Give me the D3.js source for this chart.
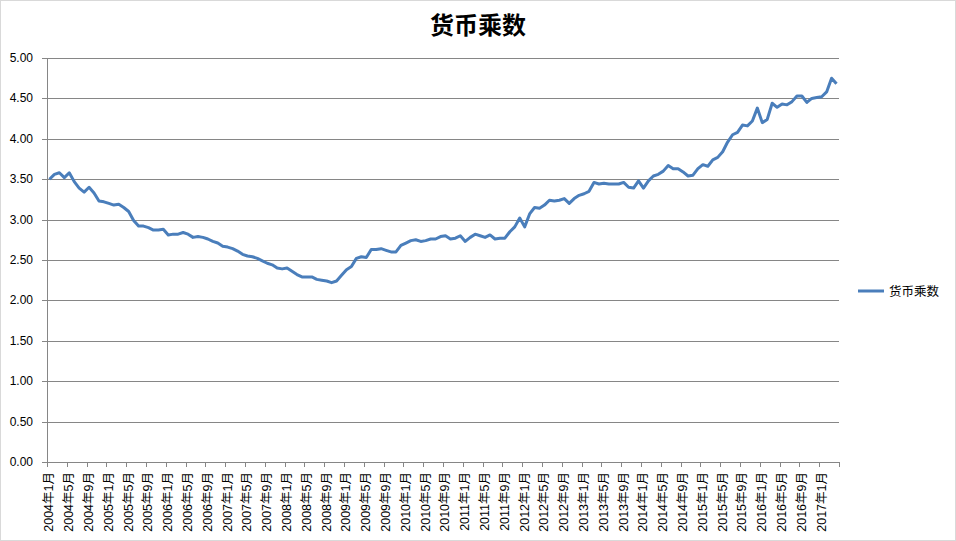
<!DOCTYPE html>
<html><head><meta charset="utf-8">
<script src="https://cdn.jsdelivr.net/npm/d3@7"></script>
<style>body{margin:0;background:#fff}svg{display:block}</style>
</head><body>
<svg id="c" width="956" height="541"></svg>
<script>
const title = "货币乘数";
const seriesName = "货币乘数";
const startYear = 2004, startMonth = 1;
const values = [
 3.50,3.56,3.58,3.52,3.58,3.47,3.39,3.34,3.40,3.33,3.23,3.22,3.20,3.18,3.19,3.15,
 3.10,2.99,2.92,2.92,2.90,2.87,2.87,2.88,2.81,2.82,2.82,2.84,2.82,2.78,2.79,2.78,
 2.76,2.73,2.71,2.67,2.66,2.64,2.61,2.57,2.55,2.54,2.52,2.49,2.46,2.44,2.40,2.39,
 2.40,2.36,2.32,2.29,2.29,2.29,2.26,2.25,2.24,2.22,2.24,2.31,2.38,2.42,2.52,2.54,
 2.53,2.63,2.63,2.64,2.62,2.60,2.60,2.68,2.71,2.74,2.75,2.73,2.74,2.76,2.76,2.79,
 2.80,2.76,2.77,2.80,2.73,2.78,2.82,2.80,2.78,2.81,2.76,2.77,2.77,2.85,2.91,3.02,
 2.91,3.07,3.15,3.14,3.18,3.24,3.23,3.24,3.26,3.20,3.26,3.30,3.32,3.35,3.46,3.44,
 3.45,3.44,3.44,3.44,3.46,3.40,3.39,3.48,3.39,3.48,3.54,3.56,3.60,3.67,3.63,3.63,
 3.59,3.54,3.55,3.63,3.68,3.66,3.74,3.77,3.84,3.96,4.05,4.08,4.17,4.16,4.22,4.38,
 4.20,4.24,4.44,4.39,4.43,4.42,4.46,4.53,4.53,4.45,4.50,4.51,4.52,4.58,4.75,4.68
];
const yTicks = [0,0.5,1,1.5,2,2.5,3,3.5,4,4.5,5];

const categories = values.map((v,i)=>{
  const m = startMonth - 1 + i;
  return (startYear + Math.floor(m/12)) + "年" + (m%12 + 1) + "月";
});

const svg = d3.select("#c");
const L = 47, R = 839, T = 58, B = 462;
const x = d3.scaleBand().domain(categories).range([L, R]).padding(0);
const y = d3.scaleLinear().domain([0,5]).range([B, T]);
const font = "'Liberation Sans', Arial, 'Noto Sans CJK SC', sans-serif";
const grid = "#868686";

svg.append("rect").attr("x",0.5).attr("y",0.5).attr("width",955).attr("height",540)
  .attr("fill","#fff").attr("stroke","#d9d9d9");

svg.append("text").attr("x",478).attr("y",34).attr("text-anchor","middle")
  .attr("font-family","'Noto Sans CJK SC', sans-serif").attr("font-weight","bold")
  .attr("font-size",24).attr("fill","#000").text(title);

// gridlines
svg.append("g").selectAll("line").data(yTicks.filter(d=>d>0)).join("line")
  .attr("x1",L).attr("x2",R).attr("y1",d=>Math.round(y(d))+0.5).attr("y2",d=>Math.round(y(d))+0.5)
  .attr("stroke",grid).attr("stroke-width",1);

// y axis
const ya = svg.append("g");
ya.append("line").attr("x1",L+0.5).attr("x2",L+0.5).attr("y1",T).attr("y2",B).attr("stroke",grid);
ya.selectAll("line.t").data(yTicks).join("line").attr("class","t")
  .attr("x1",L-5).attr("x2",L).attr("y1",d=>Math.round(y(d))+0.5).attr("y2",d=>Math.round(y(d))+0.5)
  .attr("stroke",grid);
ya.selectAll("text").data(yTicks).join("text")
  .attr("x",33).attr("y",d=>y(d)+4).attr("text-anchor","end")
  .attr("font-family",font).attr("font-size",12).attr("fill","#000")
  .text(d=>d.toFixed(2));

// x axis
const xa = svg.append("g");
xa.append("line").attr("x1",L).attr("x2",R).attr("y1",B+0.5).attr("y2",B+0.5).attr("stroke",grid);
const tickCats = categories.filter((c,i)=>i%4===0);
xa.selectAll("line.t").data(tickCats).join("line").attr("class","t")
  .attr("x1",d=>Math.round(x(d))+0.5).attr("x2",d=>Math.round(x(d))+0.5).attr("y1",B).attr("y2",B+5)
  .attr("stroke",grid);
xa.append("line").attr("x1",R+0.5).attr("x2",R+0.5).attr("y1",B).attr("y2",B+5).attr("stroke",grid);
xa.selectAll("text").data(tickCats).join("text")
  .attr("transform",d=>`translate(${x(d)+x.bandwidth()/2+4},${B+10}) rotate(-90)`)
  .attr("text-anchor","end")
  .attr("font-family",font).attr("font-size",12.5).attr("fill","#000")
  .text(d=>d);

// line
const line = d3.line().x((d,i)=>x(categories[i])+x.bandwidth()/2).y(d=>y(d));
svg.append("path").datum(values).attr("d",line).attr("fill","none")
  .attr("stroke","#4a7ebb").attr("stroke-width",3).attr("stroke-linejoin","round");

// legend
const lg = svg.append("g");
lg.append("line").attr("x1",858).attr("x2",884).attr("y1",291).attr("y2",291)
  .attr("stroke","#4a7ebb").attr("stroke-width",3);
lg.append("text").attr("x",889).attr("y",295.5).attr("font-family",font)
  .attr("font-size",12.5).attr("fill","#000").text(seriesName);
</script>
</body></html>
